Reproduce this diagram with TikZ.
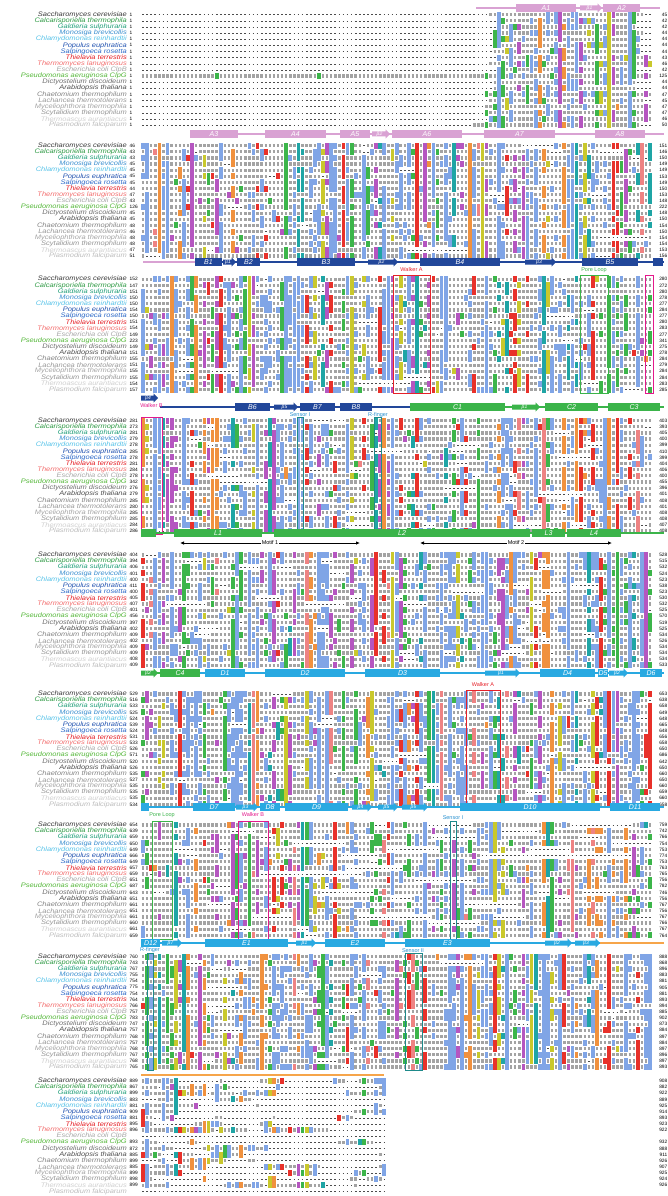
\documentclass[tikz,border=0pt]{standalone}
\usepackage{fontspec}
\setmainfont{Liberation Sans}
\newfontfamily\namefont[FakeStretch=1.15]{Liberation Sans}
\usetikzlibrary{arrows.meta, calc}

% secondary structure colours
\definecolor{apink}{HTML}{D9A2D3}
\definecolor{bblue}{HTML}{22479A}
\definecolor{cgreen}{HTML}{3BB44A}
\definecolor{dcyan}{HTML}{29A9E1}
\definecolor{eorange}{HTML}{F6A54A}
% motif colours
\definecolor{walkerA}{HTML}{E62129}
\definecolor{walkerB}{HTML}{E3198B}
\definecolor{poreloop}{HTML}{3BB44A}
\definecolor{sensorblue}{HTML}{2A92D0}
\definecolor{sensorbox}{HTML}{1E8A8A}
% residue colours
\definecolor{res0}{HTML}{80A5E6}
\definecolor{res1}{HTML}{E8312A}
\definecolor{res2}{HTML}{B556C0}
\definecolor{res3}{HTML}{3CB54A}
\definecolor{res4}{HTML}{F0913E}
\definecolor{res5}{HTML}{C9C82C}
\definecolor{res6}{HTML}{1FA5A5}
\definecolor{res7}{HTML}{EE8383}
% species colours
\definecolor{sp0}{HTML}{3A3A3A}
\definecolor{sp1}{HTML}{2E9A44}
\definecolor{sp2}{HTML}{22A07A}
\definecolor{sp3}{HTML}{3A8FD0}
\definecolor{sp4}{HTML}{57C3E9}
\definecolor{sp5}{HTML}{2253B0}
\definecolor{sp6}{HTML}{2B68C8}
\definecolor{sp7}{HTML}{E51E25}
\definecolor{sp8}{HTML}{F36F6F}
\definecolor{sp9}{HTML}{A8A8A8}
\definecolor{sp10}{HTML}{55B83A}
\definecolor{sp11}{HTML}{707070}
\definecolor{sp12}{HTML}{505050}
\definecolor{sp13}{HTML}{858585}
\definecolor{sp14}{HTML}{999999}
\definecolor{sp15}{HTML}{A5A5A5}
\definecolor{sp16}{HTML}{969696}
\definecolor{sp17}{HTML}{D0D0D0}
\definecolor{sp18}{HTML}{BDBDBD}

\tikzset{
  species/.style={anchor=east, inner sep=0pt, font=\namefont\fontsize{6.5}{6.5}\selectfont\itshape},
  posnum/.style={inner sep=0pt, font=\fontsize{4.8}{4.8}\selectfont},
  helixbox/.style={rectangle, fill=#1, text=white, inner sep=0pt, minimum height=8.5pt,
    font=\fontsize{7}{7}\selectfont\itshape},
  strandlabel/.style={inner sep=0pt, text=white, font=\fontsize{5}{5}\selectfont\itshape},
  ssline/.style={draw=#1, line width=1.1pt},
  motifbox/.style={draw=#1, line width=0.8pt},
  motiflabel/.style={inner sep=0pt, text=#1, font=\fontsize{5.5}{5.5}\selectfont},
  lettermarks/.style={line width=3.2pt, black!36, dash pattern=on 2.5pt off 1.59pt},
  gapdash/.style={line width=0.45pt, black!70, dash pattern=on 1.7pt off 2.39pt},
  motifarrow/.style={{Latex[length=4pt,width=3.5pt]}-{Latex[length=4pt,width=3.5pt]}, line width=0.9pt},
}

\def\specieslist{Saccharomyces cerevisiae/sp0, Calcarisporiella thermophila/sp1,
  Galdieria sulphuraria/sp2, Monosiga brevicollis/sp3, Chlamydomonas reinhardtii/sp4,
  Populus euphratica/sp5, Salpingoeca rosetta/sp6, Thielavia terrestris/sp7,
  Thermomyces lanuginosus/sp8, Escherichia coli ClpB/sp9, Pseudomonas aeruginosa ClpG/sp10,
  Dictyostelium discoideum/sp11, Arabidopsis thaliana/sp12, Chaetomium thermophilum/sp13,
  Lachancea thermotolerans/sp14, Myceliophthora thermophila/sp15, Scytalidium thermophilum/sp16,
  Thermoascus aurantiacus/sp17, Plasmodium falciparum/sp18}

\def\fullspan{0/1/125,1/1/125,2/1/125,3/1/125,4/1/125,5/1/125,6/1/125,7/1/125,8/1/125,
  9/1/125,10/1/125,11/1/125,12/1/125,13/1/125,14/1/125,15/1/125,16/1/125,17/1/125,18/1/125}

% helix box: name, colour, x1, x2, y, label
\newcommand\helix[6]{%
  \node[helixbox=#2, minimum width={(#4-#3)*1pt}] (#1) at ({(#3+#4)/2},#5) {#6};}
% strand arrow: name, colour, x1, x2, y, label
\newcommand\strand[6]{%
  \fill[#2] (#3,#5-2.5) -- (#4-4.5,#5-2.5) -- (#4-4.5,#5-4.6) -- (#4,#5)
    -- (#4-4.5,#5+4.6) -- (#4-4.5,#5+2.5) -- (#3,#5+2.5) -- cycle;
  \node[strandlabel] (#1) at ({(#3+#4)/2-1.5},#5) {#6};}
% motif box over a block: name, colour, x1, x2, first row y, label, label y
\newcommand\motif[7]{%
  \draw[motifbox=#2] (#3,#5-3.7) rectangle (#4,#5+114);
  \node[motiflabel=#2] (#1) at ({(#3+#4)/2},#7) {#6};}

% a run of gaps in one row: first row y, row, first column, last column
\newcommand\gaprun[4]{%
  \pgfmathsetmacro\xa{141+(#3-1)*4.09}%
  \pgfmathsetmacro\xb{141+#4*4.09}%
  \pgfmathsetmacro\yg{#1+#2*6.13}%
  \fill[white] (\xa,\yg-2.4) rectangle (\xb,\yg+2.4);
  \draw[gapdash] ({\xa+1.2},\yg) -- ({\xb-1},\yg);}
% a run of coloured cells in one column: first row y, column, first row, last row, colour
\newcommand\cellrun[5]{%
  \pgfmathsetmacro\xa{141+(#2-1)*4.09+0.17}%
  \pgfmathsetmacro\ya{#1+#3*6.13-3.0}%
  \pgfmathsetmacro\yb{#1+#4*6.13+3.0}%
  \fill[res#5] (\xa,\ya) rectangle ({\xa+3.75},\yb);}

% residue cells: first row y, columns, gap open, gap close, quiet columns, row spans
\newcommand\alignrows[6]{%
  \edef\spanlist{#6}%
  \foreach \r/\st/\en in \spanlist{%
    \expandafter\xdef\csname gs\r\endcsname{0}%
    \expandafter\xdef\csname gb\r\endcsname{0}%
    \expandafter\xdef\csname rst\r\endcsname{\st}%
    \expandafter\xdef\csname ren\r\endcsname{\en}%
    \pgfmathsetmacro\yg{#1+\r*6.13}%
    \draw[lettermarks] (141.8,\yg) -- ({141+#2*4.09},\yg);
  }%
  \foreach \c in {1,...,#2}{%
    \pgfmathsetmacro\cp{\c<#5+0.5 ? 0.04 : 0.05+0.9*rnd^1.6}%
    \pgfmathsetmacro\u{rnd}%
    \pgfmathtruncatemacro\ck{\u<0.45?0:(\u<0.55?1:(\u<0.66?2:(\u<0.78?3:(\u<0.86?4:(\u<0.91?5:(\u<0.97?6:7))))))}%
    \xdef\runtop{-1}%
    \foreach \r in {0,...,18}{%
      \pgfmathsetmacro\u{rnd}%
      \edef\gs{\csname gs\r\endcsname}%
      \ifnum\gs=0 \ifdim\u pt<#3pt \def\gs{1}\fi\else\ifdim\u pt<#4pt \def\gs{0}\fi\fi
      \expandafter\xdef\csname gs\r\endcsname{\gs}%
      \edef\mode{\gs}%
      \ifnum\c<\csname rst\r\endcsname\relax \def\mode{1}\fi
      \ifnum\c>\csname ren\r\endcsname\relax \def\mode{1}\fi
      \def\colored{0}%
      \ifnum\mode=0
        \pgfmathsetmacro\u{rnd}%
        \ifdim\u pt<\cp pt \def\colored{1}\fi
      \fi
      \edef\gb{\csname gb\r\endcsname}%
      \ifnum\mode=1
        \ifnum\gb=0 \expandafter\xdef\csname gb\r\endcsname{\c}\fi
      \else
        \ifnum\gb>0
          \pgfmathtruncatemacro\ge{\c-1}%
          \gaprun{#1}{\r}{\gb}{\ge}%
          \expandafter\xdef\csname gb\r\endcsname{0}%
        \fi
      \fi
      \ifnum\colored=1
        \ifnum\runtop<0 \xdef\runtop{\r}\fi
      \else
        \ifnum\runtop>-1
          \pgfmathtruncatemacro\re{\r-1}%
          \cellrun{#1}{\c}{\runtop}{\re}{\ck}%
          \xdef\runtop{-1}%
        \fi
      \fi
    }%
    \ifnum\runtop>-1 \cellrun{#1}{\c}{\runtop}{18}{\ck}\fi
  }%
  \foreach \r in {0,...,18}{%
    \edef\gb{\csname gb\r\endcsname}%
    \ifnum\gb>0 \gaprun{#1}{\r}{\gb}{#2}\fi
  }%
}

\begin{document}
\begin{tikzpicture}[x=1pt, y=-1pt]
\useasboundingbox (0,0) rectangle (668,1196);
\fill[white] (0,0) rectangle (668,1196);
\pgfmathsetseed{11}

% species names in every block
\foreach \b/\yb in {1/14.7, 2/145.7, 3/279.3, 4/420.7, 5/555, 6/694, 7/825, 8/956.7, 9/1081}{
  \foreach \nm/\cl [count=\r from 0] in \specieslist
    \node[species, text=\cl] (sp-\b-\r) at (127,{\yb+(\r)*6.13}) {\nm};
}

% residues
\alignrows{14.7}{125}{0}{1}{84}{0/86/123,1/88/121,2/88/121,3/87/123,4/87/122,5/87/122,
  6/87/122,7/88/125,8/86/125,9/88/121,10/1/125,11/87/121,12/87/121,13/85/125,14/86/123,
  15/85/125,16/85/125,17/86/125,18/82/122}
\alignrows{145.7}{125}{0.012}{0.3}{0}{\fullspan}
\alignrows{279.3}{125}{0.008}{0.3}{0}{\fullspan}
\alignrows{420.7}{125}{0.012}{0.3}{0}{\fullspan}
\alignrows{555}{125}{0.015}{0.3}{0}{\fullspan}
\alignrows{694}{125}{0.01}{0.3}{0}{\fullspan}
\alignrows{825}{125}{0.02}{0.12}{0}{\fullspan}
\alignrows{956.7}{125}{0.012}{0.3}{0}{\fullspan}
\alignrows{1081}{60}{0.14}{0.1}{0}{0/1/60,1/1/60,2/1/60,3/1/60,4/1/60,5/1/60,6/1/60,7/1/60,
  8/1/60,9/99/60,10/1/60,11/1/60,12/1/60,13/1/60,14/1/60,15/1/60,16/1/60,17/1/60,18/99/60}

% position numbers
\foreach \r in {0,...,18}{
  \node[posnum, anchor=west] (l-1-\r) at (129.5,{14.7+\r*6.13}) {1};
  \pgfmathtruncatemacro\rnum{{45,42,42,44,44,44,44,43,46,42,125,44,44,47,45,47,47,46,50}[\r]}
  \node[posnum, anchor=east] (r-1-\r) at (667.5,{14.7+\r*6.13}) {\rnum};
}
\foreach \bi/\yb in {1/145.7,2/279.3,3/420.7,4/555,5/694,6/825,7/956.7}{
  \foreach \r in {0,...,18}{
    \pgfmathsetmacro\oa{{0,-3,-3,-1,-1,-1,-1,-2,1,-3,80,-1,-1,2,0,2,2,1,5}[\r]}
    \pgfmathsetmacro\ob{{0,-22,10,-6,-8,20,-8,6,7,-3,4,-17,-4,10,-4,10,9,10,5}[\r]}
    \pgfmathtruncatemacro\lnum{{45,151,280,403,528,653,759,888}[\bi-1]+round(\oa+(\ob-\oa)*(\bi-1)/8)+1}
    \pgfmathtruncatemacro\rnum{{45,151,280,403,528,653,759,888}[\bi]+round(\oa+(\ob-\oa)*\bi/8)}
    \node[posnum, anchor=west] (l-\bi-\r) at (129.5,{\yb+\r*6.13}) {\lnum};
    \node[posnum, anchor=east] (r-\bi-\r) at (667.5,{\yb+\r*6.13}) {\rnum};
  }
}
\foreach \r/\lnum/\rnum in {0/889/908,1/867/882,2/899/922,3/883/889,4/881/925,5/909/914,
  6/881/893,7/895/923,8/896/922,10/893/932,11/872/888,12/885/911,13/899/926,14/885/907,
  15/899/925,16/898/924,17/899/926}{
  \node[posnum, anchor=west] (l-9-\r) at (129.5,{1081+\r*6.13}) {\lnum};
  \node[posnum, anchor=east] (r-9-\r) at (667.5,{1081+\r*6.13}) {\rnum};
}

% block 1 structure
\draw[ssline=apink] (476,8) -- (660,8);
\helix{A1}{apink}{516}{576}{8}{A1}
\strand{a-b1}{apink}{580}{602}{8}{β1}
\helix{A2}{apink}{603}{640}{8}{A2}

% block 2 structure
\draw[ssline=apink] (190,134) -- (664,134);
\helix{A3}{apink}{190}{238}{134}{A3}
\helix{A4}{apink}{265}{326}{134}{A4}
\helix{A5}{apink}{340}{370}{134}{A5}
\strand{a-b2}{apink}{372}{390}{134}{β2}
\helix{A6}{apink}{392}{462}{134}{A6}
\helix{A7}{apink}{484}{555}{134}{A7}
\helix{A8}{apink}{595}{645}{134}{A8}

% block 3 structure
\draw[ssline=apink] (143,262) -- (195,262);
\draw[ssline=bblue] (195,262) -- (664,262);
\helix{B1}{bblue}{195}{222}{262}{B1}
\strand{b-b1}{bblue}{223}{236}{262}{β1}
\helix{B2}{bblue}{237}{260}{262}{B2}
\helix{B3}{bblue}{297}{355}{262}{B3}
\strand{b-b2}{bblue}{368}{398}{262}{β2}
\helix{B4}{bblue}{420}{500}{262}{B4}
\strand{b-b3}{bblue}{525}{556}{262}{β3}
\helix{B5}{bblue}{582}{638}{262}{B5}
\helix{B5x}{bblue}{653}{663}{262}{}
\motif{walkA1}{walkerA}{393}{430}{279.3}{Walker A}{270}
\motif{pore1}{poreloop}{580}{608}{279.3}{Pore Loop}{270}
\motif{walkB1}{walkerB}{645}{653}{279.3}{}{270}

% block 4 structure
\strand{b-b4}{bblue}{141}{158}{398}{β4}
\draw[ssline=bblue] (160,407) -- (410,407);
\draw[ssline=cgreen] (410,407) -- (664,407);
\helix{B6}{bblue}{235}{270}{407}{B6}
\strand{b-b5}{bblue}{274}{298}{407}{β5}
\helix{B7}{bblue}{300}{335}{407}{B7}
\helix{B8}{bblue}{340}{372}{407}{B8}
\helix{C1}{cgreen}{410}{505}{407}{C1}
\strand{c-c1}{cgreen}{512}{540}{407}{β1}
\helix{C2}{cgreen}{545}{598}{407}{C2}
\helix{C3}{cgreen}{608}{660}{407}{C3}
\motif{walkB2}{walkerB}{141}{162}{420.7}{Walker B}{406}
\motif{sens1}{sensorbox}{297}{303}{420.7}{}{415}
\node[motiflabel=sensorblue] (sens1lab) at (300,415) {Sensor I};
\motif{rfin1}{sensorbox}{374}{381}{420.7}{}{415}
\node[motiflabel=sensorblue] (rfin1lab) at (378,415) {R-finger};

% block 5 structure
\draw[ssline=cgreen] (141,533) -- (664,533);
\helix{C3b}{cgreen}{141}{156}{533}{}
\helix{L1}{cgreen}{174}{262}{533}{L1}
\helix{L2}{cgreen}{274}{530}{533}{L2}
\helix{L3}{cgreen}{532}{565}{533}{L3}
\helix{L4}{cgreen}{567}{621}{533}{L4}
\coordinate (m1a) at (180,543);
\coordinate (m1b) at (360,543);
\coordinate (m2a) at (420,543);
\coordinate (m2b) at (612,543);
\draw[motifarrow] (m1a) -- (m1b);
\draw[motifarrow] (m2a) -- (m2b);
\node[fill=white, inner sep=1pt, font=\fontsize{5.5}{5.5}\selectfont] (mot1) at ($(m1a)!0.5!(m1b)$) {Motif 1};
\node[fill=white, inner sep=1pt, font=\fontsize{5.5}{5.5}\selectfont] (mot2) at ($(m2a)!0.5!(m2b)$) {Motif 2};

% block 6 structure
\draw[ssline=cgreen] (141,673) -- (200,673);
\draw[ssline=dcyan] (200,673) -- (664,673);
\strand{c-c2}{cgreen}{141}{158}{673}{β2}
\helix{C4}{cgreen}{160}{200}{673}{C4}
\helix{D1}{dcyan}{205}{245}{673}{D1}
\helix{D2}{dcyan}{265}{345}{673}{D2}
\helix{D3}{dcyan}{365}{440}{673}{D3}
\strand{d-d1}{dcyan}{485}{520}{673}{β1}
\helix{D4}{dcyan}{540}{595}{673}{D4}
\helix{D5}{dcyan}{598}{608}{673}{D5}
\strand{d-d2}{dcyan}{609}{628}{673}{β2}
\helix{D6}{dcyan}{640}{662}{673}{D6}
\motif{walkA2}{walkerA}{466}{500}{694}{Walker A}{685}

% block 7 structure
\draw[ssline=dcyan] (141,807) -- (664,807);
\helix{D6b}{dcyan}{141}{149}{807}{}
\helix{D7}{dcyan}{193}{235}{807}{D7}
\strand{d-d3}{dcyan}{236}{258}{807}{β3}
\helix{D8}{dcyan}{260}{280}{807}{D8}
\helix{D9}{dcyan}{285}{348}{807}{D9}
\strand{d-d4}{dcyan}{352}{372}{807}{β4}
\strand{d-d5}{dcyan}{378}{398}{807}{β5}
\strand{d-d6}{dcyan}{402}{428}{807}{β6}
\helix{D10}{dcyan}{460}{600}{807}{D10}
\helix{D11}{dcyan}{610}{660}{807}{D11}
\motif{pore2}{poreloop}{152}{172}{825}{Pore Loop}{815}
\motif{walkB3}{walkerB}{238}{268}{825}{Walker B}{815}
\motif{sens2}{sensorbox}{450}{456}{825}{}{818}
\node[motiflabel=sensorblue] (sens2lab) at (453,818) {Sensor I};

% block 8 structure
\draw[ssline=dcyan] (141,943) -- (600,943);
\draw[ssline=eorange] (600,943) -- (664,943);
\helix{D12}{dcyan}{141}{160}{943}{D12}
\strand{d-d7}{dcyan}{162}{182}{943}{β7}
\helix{E1}{dcyan}{205}{288}{943}{E1}
\strand{e-e1}{dcyan}{296}{316}{943}{β1}
\helix{E2}{dcyan}{325}{385}{943}{E2}
\helix{E3}{dcyan}{405}{490}{943}{E3}
\strand{e-e2}{dcyan}{545}{572}{943}{β2}
\strand{e-e3}{dcyan}{575}{600}{943}{β3}
\motif{rfin2}{sensorbox}{147}{153}{956.7}{}{950}
\node[motiflabel=sensorblue] (rfin2lab) at (150,950) {R-finger};
\motif{sens3}{sensorbox}{405}{422}{956.7}{}{951}
\node[motiflabel=sensorblue] (sens3lab) at (413,951) {Sensor II};

% block 9 structure
\draw[ssline=eorange] (141,1075) -- (384,1075);
\end{tikzpicture}
\end{document}
